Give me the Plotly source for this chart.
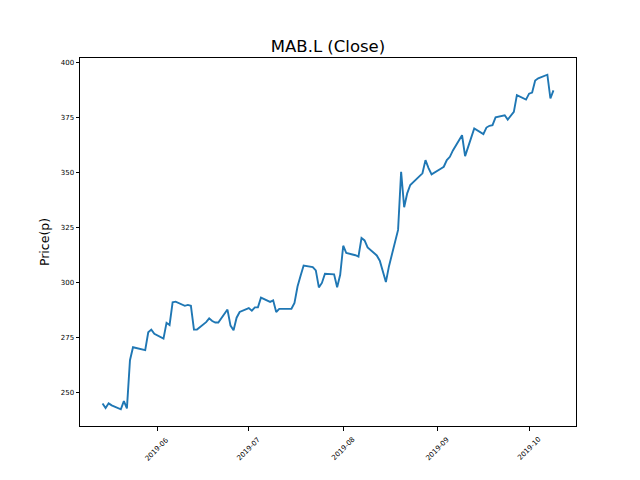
import pandas as pd
import plotly.graph_objects as go

# Daily close
dates = [
    "2019-05-14", "2019-05-15", "2019-05-16", "2019-05-17", "2019-05-20", "2019-05-21",
    "2019-05-22", "2019-05-23", "2019-05-24", "2019-05-28", "2019-05-29", "2019-05-30",
    "2019-05-31", "2019-06-03", "2019-06-04", "2019-06-05", "2019-06-06", "2019-06-07",
    "2019-06-10", "2019-06-11", "2019-06-12", "2019-06-13", "2019-06-14", "2019-06-17",
    "2019-06-18", "2019-06-19", "2019-06-20", "2019-06-21", "2019-06-24", "2019-06-25",
    "2019-06-26", "2019-06-27", "2019-06-28", "2019-07-01", "2019-07-02", "2019-07-03",
    "2019-07-04", "2019-07-05", "2019-07-08", "2019-07-09", "2019-07-10", "2019-07-11",
    "2019-07-12", "2019-07-15", "2019-07-16", "2019-07-17", "2019-07-18", "2019-07-19",
    "2019-07-22", "2019-07-23", "2019-07-24", "2019-07-25", "2019-07-26", "2019-07-29",
    "2019-07-30", "2019-07-31", "2019-08-01", "2019-08-02", "2019-08-05", "2019-08-06",
    "2019-08-07", "2019-08-08", "2019-08-09", "2019-08-12", "2019-08-13", "2019-08-14",
    "2019-08-15", "2019-08-16", "2019-08-19", "2019-08-20", "2019-08-21", "2019-08-22",
    "2019-08-23", "2019-08-27", "2019-08-28", "2019-08-29", "2019-08-30", "2019-09-02",
    "2019-09-03", "2019-09-04", "2019-09-05", "2019-09-06", "2019-09-09", "2019-09-10",
    "2019-09-11", "2019-09-12", "2019-09-13", "2019-09-16", "2019-09-17", "2019-09-18",
    "2019-09-19", "2019-09-20", "2019-09-23", "2019-09-24", "2019-09-25", "2019-09-26",
    "2019-09-27", "2019-09-30", "2019-10-01", "2019-10-02", "2019-10-03", "2019-10-04",
    "2019-10-07", "2019-10-08", "2019-10-09",
]
close = [
    245.0, 243.0, 245.1, 244.2, 242.4, 246.1,
    242.8, 264.7, 270.6, 269.3, 277.4, 278.6,
    276.7, 274.5, 281.7, 280.7, 291.0, 291.3,
    289.4, 289.8, 289.4, 278.6, 278.6, 282.0,
    283.7, 282.5, 281.8, 281.8, 287.7, 280.4,
    278.3, 284.0, 286.6, 288.4, 287.2, 288.7,
    288.7, 293.1, 291.2, 291.9, 286.6, 288.0,
    288.0, 288.1, 290.7, 298.2, 303.1, 307.7,
    307.0, 305.5, 297.8, 299.8, 304.0, 303.7,
    297.8, 303.5, 316.7, 313.4, 312.4, 311.8,
    320.2, 319.1, 315.9, 312.3, 309.9, 304.5,
    300.2, 307.3, 323.9, 350.3, 334.2, 340.5,
    344.3, 349.6, 355.6, 352.0, 349.1, 351.7,
    352.6, 355.6, 357.1, 360.0, 366.9, 357.4,
    361.5, 366.0, 370.0, 367.4, 370.4, 371.2,
    371.5, 375.0, 376.0, 374.0, 376.0, 377.5,
    385.1, 383.1, 385.8, 386.3, 391.8, 392.8,
    394.4, 383.6, 387.3,
]
month_ticks = ["2019-06-01", "2019-07-01", "2019-08-01", "2019-09-01", "2019-10-01"]
month_labels = ["2019-06", "2019-07", "2019-08", "2019-09", "2019-10"]
y_ticks = [250, 275, 300, 325, 350, 375, 400]

d = pd.to_datetime(dates)
span = d[-1] - d[0]
x_range = [d[0] - 0.05 * span, d[-1] + 0.05 * span]
ymin, ymax = min(close), max(close)
y_range = [ymin - 0.05 * (ymax - ymin), ymax + 0.05 * (ymax - ymin)]

fig = go.Figure()
fig.add_trace(go.Scatter(
    x=d, y=close, mode="lines",
    line=dict(color="#1f77b4", width=1.9),
    showlegend=False,
))

axis_common = dict(
    showline=True, linecolor="black", linewidth=1, mirror=True,
    ticks="outside", ticklen=3.5, tickcolor="black", tickwidth=1,
    showgrid=False, zeroline=False,
)

fig.update_layout(
    width=640, height=480,
    margin=dict(l=80, r=64, t=58, b=54, autoexpand=False),
    paper_bgcolor="white", plot_bgcolor="white",
    font=dict(family="DejaVu Sans", color="black"),
    title=dict(text="MAB.L (Close)", x=0.5, xref="paper", xanchor="center",
               y=1, yref="paper", yanchor="bottom", pad=dict(b=6),
               font=dict(size=16.5)),
    xaxis=dict(range=x_range, tickvals=pd.to_datetime(month_ticks),
               showticklabels=False, **axis_common),
    yaxis=dict(range=y_range, tickvals=y_ticks, tickfont=dict(size=7),
               title=dict(text="Price(p)", font=dict(size=12.5), standoff=8),
               **axis_common),
)

# rotated month labels, centred under each tick like the original
for t, lab in zip(pd.to_datetime(month_ticks), month_labels):
    fig.add_annotation(
        x=t, xref="x", y=0, yref="paper", yshift=-23,
        xanchor="center", yanchor="middle",
        text=lab, textangle=-45, showarrow=False,
        font=dict(size=7, color="black"),
    )

# drop the page's default body margin so the figure sits at the window corner
fig.write_html("out.html", config={"displayModeBar": False},
               post_script="document.body.style.margin='0';")
